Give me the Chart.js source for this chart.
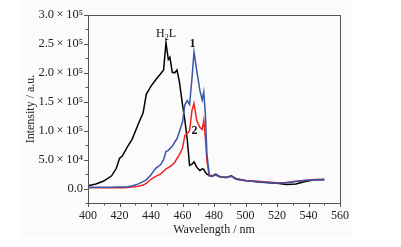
<!DOCTYPE html>
<html lang="en">
<head>
  <meta charset="UTF-8">
  <title>Emission spectra</title>
  <script src="https://cdn.jsdelivr.net/npm/chart.js"></script>
  <style>
    html, body { margin: 0; padding: 0; background: #ffffff; }
    #wrap { width: 401px; height: 247px; }
  </style>
</head>
<body>
  <div id="wrap"><canvas id="myChart" width="401" height="247"></canvas></div>

  <script>
    // wavelengths (nm)
    var wavelengths = [400, 405, 410, 415, 418, 420, 422, 425, 428, 432, 435, 437, 440, 443, 446, 448, 449.5, 451, 452, 453.5,
      455, 456.5, 458, 460, 461.5, 463, 464.5, 466, 467.3, 469, 471, 472.5, 473.5, 474.5, 475.5, 477, 479, 481, 484, 488,
      491, 494, 500, 510, 520, 526, 532, 538, 544, 550];

    // H2L (black)
    var h2lValues = [5000, 8000, 13000, 22000, 35000, 52000, 57000, 72000, 85000, 112000, 131000, 163000, 177000, 188000, 198000, 205000, 252000, 223000, 227000, 201000,
      200000, 205000, 185000, 145000, 118000, 85000, 40000, 42000, 46000, 37000, 31000, 34000, 33000, 28000, 25000, 23000, 22000, 25000, 20000, 19000,
      22000, 17000, 14000, 11000, 9000, 7000, 8000, 12000, 15000, 15000];

    // complex 1 (blue)
    var c1Values = [2300, 2300, 2300, 2300, 2500, 2600, 2800, 3000, 4500, 8000, 12000, 15000, 24000, 35000, 41000, 50000, 64000, 66000, 69000, 73000,
      80000, 86000, 98000, 115000, 145000, 152000, 145000, 190000, 236000, 205000, 170000, 153000, 167000, 130000, 60000, 22000, 21000, 24000, 20000, 19000,
      21000, 16000, 13500, 11500, 9500, 10000, 12000, 14000, 15000, 15500];

    // complex 2 (red)
    var c2Values = [1200, 1200, 1200, 1200, 1300, 1400, 1500, 1800, 2500, 4000, 6000, 9000, 16000, 21000, 25000, 30000, 34000, 36000, 38000, 41000,
      45000, 52000, 58000, 70000, 92000, 95000, 100000, 135000, 147000, 118000, 106000, 102000, 118000, 88000, 48000, 22000, 21500, 23500, 20000, 19500,
      21500, 16500, 14000, 12000, 10000, 10500, 12500, 14500, 15500, 16000];

    var yTickValues = [0, 50000, 100000, 150000, 200000, 250000, 300000];
    var yTickLabels = ['0.0', '5.0\u2009\u00d7\u200910\u2074', '1.0\u2009\u00d7\u200910\u2075', '1.5\u2009\u00d7\u200910\u2075',
      '2.0\u2009\u00d7\u200910\u2075', '2.5\u2009\u00d7\u200910\u2075', '3.0\u2009\u00d7\u200910\u2075'];
    var xTickValues = [400, 420, 440, 460, 480, 500, 520, 540, 560];

    // curve labels: text, wavelength, intensity
    var curveNotes = [
      { text: 'H', sub: '2', rest: 'L', x: 449.5, y: 268000, bold: false },
      { text: '1', x: 466.3, y: 250000, bold: true },
      { text: '2', x: 467.6, y: 99000, bold: true }
    ];

    function toPoints(xs, ys) {
      return xs.map(function (x, i) { return { x: x, y: ys[i] }; });
    }

    var serif = "'Liberation Serif', 'DejaVu Serif', serif";
    var axisColor = '#555555';

    // background panel, frame, ticks and curve labels
    var decorPlugin = {
      id: 'decor',
      beforeDraw: function (chart) {
        var ctx = chart.ctx;
        ctx.save();
        ctx.fillStyle = '#fbfbfb';
        ctx.fillRect(20, 0, 332, 238);
        ctx.restore();
      },
      afterDraw: function (chart) {
        var ctx = chart.ctx;
        var a = chart.chartArea;
        var xs = chart.scales.x, ys = chart.scales.y;
        ctx.save();
        ctx.strokeStyle = axisColor;
        ctx.lineWidth = 1;
        ctx.strokeRect(Math.round(a.left) + 0.5, Math.round(a.top) + 0.5,
          Math.round(a.right - a.left), Math.round(a.bottom - a.top));

        ctx.beginPath();
        for (var v = 400; v <= 560; v += 10) {
          var px = Math.round(xs.getPixelForValue(v)) + 0.5;
          var len = (v % 20 === 0) ? 4 : 2.5;
          ctx.moveTo(px, a.bottom);
          ctx.lineTo(px, a.bottom + len);
        }
        for (var w = -25000; w <= 300000; w += 25000) {
          var py = Math.round(ys.getPixelForValue(w)) + 0.5;
          var l2 = (w % 50000 === 0) ? 4 : 2.5;
          ctx.moveTo(a.left, py);
          ctx.lineTo(a.left - l2, py);
        }
        ctx.stroke();

        ctx.fillStyle = '#111111';
        ctx.textBaseline = 'middle';
        curveNotes.forEach(function (n) {
          var px = xs.getPixelForValue(n.x);
          var py = ys.getPixelForValue(n.y);
          ctx.font = (n.bold ? 'bold ' : '') + '12px ' + serif;
          if (n.sub) {
            var w1 = ctx.measureText(n.text).width;
            ctx.font = '8px ' + serif;
            var w2 = ctx.measureText(n.sub).width;
            ctx.font = '12px ' + serif;
            var w3 = ctx.measureText(n.rest).width;
            var start = px - (w1 + w2 + w3) / 2;
            ctx.textAlign = 'left';
            ctx.fillText(n.text, start, py);
            ctx.font = '8px ' + serif;
            ctx.fillText(n.sub, start + w1, py + 4);
            ctx.font = '12px ' + serif;
            ctx.fillText(n.rest, start + w1 + w2, py);
          } else {
            ctx.textAlign = 'center';
            ctx.fillText(n.text, px, py);
          }
        });
        ctx.restore();
      }
    };

    var ctx = document.getElementById('myChart').getContext('2d');
    new Chart(ctx, {
      type: 'line',
      data: {
        datasets: [
          { label: '1', data: toPoints(wavelengths, c1Values), borderColor: '#3a56a8', borderWidth: 1.5, pointRadius: 0, tension: 0 },
          { label: '2', data: toPoints(wavelengths, c2Values), borderColor: '#ee2424', borderWidth: 1.5, pointRadius: 0, tension: 0 },
          { label: 'H2L', data: toPoints(wavelengths, h2lValues), borderColor: '#000000', borderWidth: 1.5, pointRadius: 0, tension: 0 }
        ]
      },
      options: {
        responsive: false,
        animation: false,
        layout: { padding: { top: 15, right: 61, left: 0, bottom: 0 } },
        plugins: { legend: { display: false }, tooltip: { enabled: false } },
        scales: {
          x: {
            type: 'linear',
            min: 400,
            max: 560,
            afterFit: function (s) { s.height = 44; },
            afterBuildTicks: function (s) { s.ticks = xTickValues.map(function (v) { return { value: v }; }); },
            grid: { display: false, drawTicks: false },
            border: { display: false },
            ticks: { color: '#222222', font: { family: serif, size: 12 }, padding: 6, maxRotation: 0 },
            title: { display: true, text: 'Wavelength / nm', color: '#222222', font: { family: serif, size: 12 }, padding: { top: 0, bottom: 10 } }
          },
          y: {
            min: -25000,
            max: 300000,
            afterFit: function (s) { s.width = 88; },
            afterBuildTicks: function (s) { s.ticks = yTickValues.map(function (v) { return { value: v }; }); },
            grid: { display: false, drawTicks: false },
            border: { display: false },
            ticks: {
              color: '#222222',
              font: { family: serif, size: 12.5 },
              padding: 5,
              callback: function (value) {
                var i = yTickValues.indexOf(value);
                return i >= 0 ? yTickLabels[i] : '';
              }
            },
            title: { display: true, text: 'Intensity / a.u.', color: '#222222', font: { family: serif, size: 12 }, padding: { top: 24, bottom: 0 } }
          }
        }
      },
      plugins: [decorPlugin]
    });
  </script>
</body>
</html>
